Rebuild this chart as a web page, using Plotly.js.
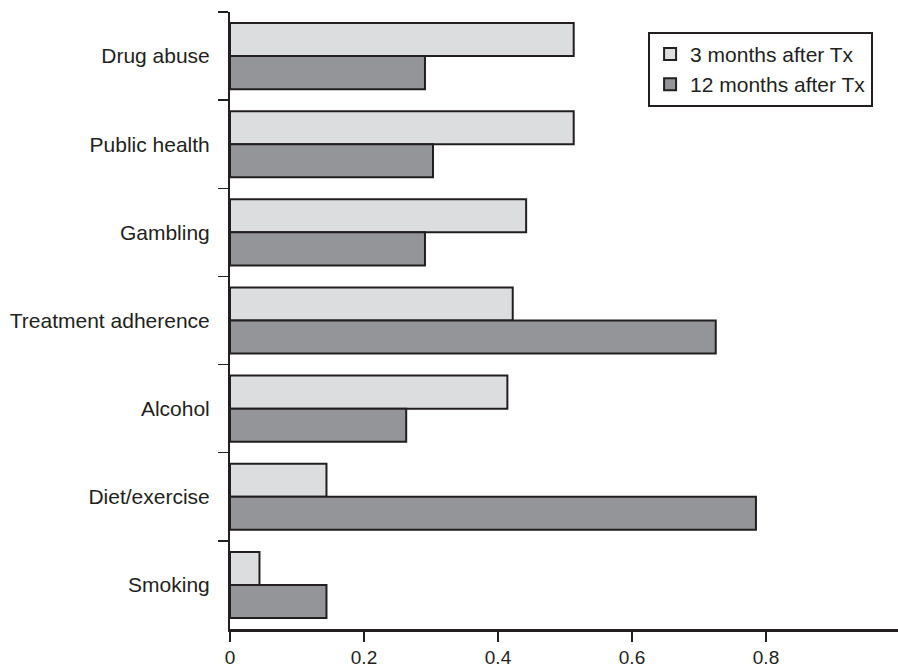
<!DOCTYPE html>
<html>
<head>
<meta charset="utf-8">
<script src="https://cdn.plot.ly/plotly-3.0.1.min.js"></script>
<style>
html, body { margin: 0; padding: 0; overflow: hidden; background: #ffffff; }
#chart { width: 900px; height: 667px; }
</style>
</head>
<body>
<div id="chart"></div>
<script>
var categories = ["Drug abuse", "Public health", "Gambling", "Treatment adherence", "Alcohol", "Diet/exercise", "Smoking"];
var seriesNames = ["3 months after Tx", "12 months after Tx"];
var months3 = [0.513, 0.513, 0.442, 0.422, 0.414, 0.144, 0.044];
var months12 = [0.291, 0.303, 0.291, 0.725, 0.263, 0.785, 0.144];
var xTickVals = [0, 0.2, 0.4, 0.6, 0.8, 1];
var xTickText = ["0", "0.2", "0.4", "0.6", "0.8", "1"];

var ink = "#231f20";
var font = "Liberation Sans, Arial, Helvetica, sans-serif";

var traces = [
  {
    type: "bar", orientation: "h", name: seriesNames[0],
    y: categories, x: months3,
    marker: { color: "#dcdddf", line: { color: ink, width: 2 } },
    hoverinfo: "skip"
  },
  {
    type: "bar", orientation: "h", name: seriesNames[1],
    y: categories, x: months12,
    marker: { color: "#939598", line: { color: ink, width: 2 } },
    hoverinfo: "skip"
  }
];

var layout = {
  width: 900, height: 667,
  margin: { l: 230, r: 0, t: 12, b: 38, pad: 0 },
  paper_bgcolor: "#ffffff", plot_bgcolor: "#ffffff",
  font: { family: font, size: 21, color: ink },
  barmode: "group", bargap: 0.25, bargroupgap: 0,
  showlegend: true,
  legend: {
    x: 0.624, y: 0.968, xanchor: "left", yanchor: "top",
    bordercolor: ink, borderwidth: 2, bgcolor: "#ffffff",
    font: { family: font, size: 21, color: ink },
    traceorder: "normal", itemwidth: 30
  },
  xaxis: {
    range: [0, 1], fixedrange: true,
    tickmode: "array", tickvals: xTickVals, ticktext: xTickText,
    ticks: "outside", ticklen: 10, tickwidth: 1.5, tickcolor: ink,
    showline: true, linecolor: ink, linewidth: 2.5,
    showgrid: false, zeroline: false,
    tickfont: { family: font, size: 19, color: ink }
  },
  yaxis: {
    type: "category", autorange: "reversed", fixedrange: true,
    tickson: "boundaries",
    ticks: "outside", ticklen: 10, tickwidth: 1.5, tickcolor: ink,
    ticklabelstandoff: 14,
    showline: true, linecolor: ink, linewidth: 2,
    showgrid: false, zeroline: false,
    tickfont: { family: font, size: 21, color: ink }
  }
};

Plotly.newPlot("chart", traces, layout, { staticPlot: true, displayModeBar: false });
</script>
</body>
</html>
